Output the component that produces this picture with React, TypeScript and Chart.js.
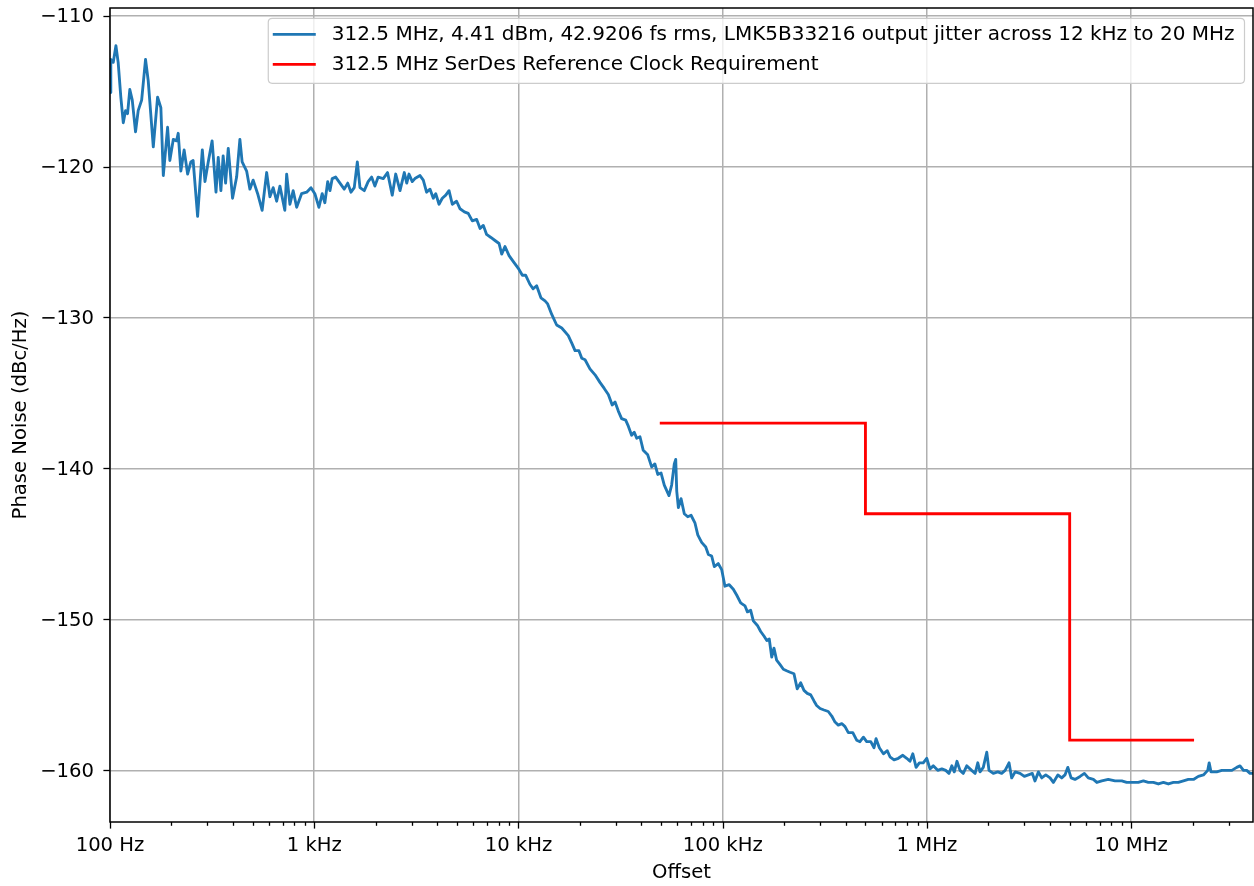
import React, { useEffect, useRef } from 'react';
import { Chart, registerables } from 'chart.js';

Chart.register(...registerables);

const noiseOffsetLog10Hz: number[] = [
  2.000, 2.004, 2.016, 2.029, 2.040, 2.053, 2.065, 2.076, 2.086, 2.097,
  2.109, 2.125, 2.138, 2.155, 2.174, 2.187, 2.212, 2.233, 2.249, 2.261,
  2.282, 2.293, 2.310, 2.326, 2.334, 2.347, 2.363, 2.380, 2.396, 2.407,
  2.429, 2.452, 2.465, 2.481, 2.500, 2.519, 2.530, 2.543, 2.554, 2.566,
  2.579, 2.600, 2.620, 2.636, 2.647, 2.669, 2.685, 2.701, 2.723, 2.745,
  2.767, 2.783, 2.799, 2.816, 2.832, 2.856, 2.865, 2.881, 2.897, 2.914,
  2.938, 2.963, 2.984,
  3.003, 3.023, 3.039, 3.052, 3.066, 3.077, 3.088, 3.105, 3.126, 3.147,
  3.164, 3.180, 3.196, 3.211, 3.224, 3.245, 3.264, 3.281, 3.297, 3.313,
  3.338, 3.359, 3.382, 3.399, 3.420, 3.441, 3.453, 3.464, 3.480, 3.493,
  3.518, 3.534, 3.550, 3.567, 3.583, 3.595, 3.611, 3.627, 3.644, 3.660,
  3.676, 3.697, 3.714, 3.735, 3.754, 3.774, 3.795, 3.812, 3.828, 3.844,
  3.865, 3.885, 3.905, 3.918, 3.934, 3.954, 3.975,
  4.002, 4.019, 4.035, 4.056, 4.072, 4.089, 4.110, 4.130, 4.143, 4.163,
  4.187, 4.212, 4.244, 4.261, 4.277, 4.296, 4.310, 4.326, 4.350, 4.375,
  4.399, 4.420, 4.440, 4.459, 4.473, 4.489, 4.505, 4.525, 4.538, 4.554,
  4.567, 4.579, 4.595, 4.611, 4.633, 4.652, 4.668, 4.682, 4.698, 4.714,
  4.737, 4.750, 4.763, 4.770, 4.775, 4.783, 4.796, 4.812, 4.829, 4.845,
  4.864, 4.878, 4.897, 4.917, 4.930, 4.946, 4.959, 4.978, 4.995,
  5.011, 5.032, 5.052, 5.069, 5.088, 5.109, 5.121, 5.137, 5.150, 5.170,
  5.186, 5.202, 5.216, 5.228, 5.240, 5.251, 5.264, 5.281, 5.297, 5.313,
  5.330, 5.349, 5.365, 5.382, 5.398, 5.414, 5.431, 5.447, 5.460, 5.477,
  5.496, 5.517, 5.534, 5.550, 5.566, 5.583, 5.599, 5.615, 5.637, 5.656,
  5.672, 5.689, 5.705, 5.725, 5.741, 5.751, 5.767, 5.787, 5.806, 5.819,
  5.839, 5.860, 5.882, 5.901, 5.917, 5.931, 5.947, 5.963, 5.982, 5.999,
  6.015, 6.031, 6.053, 6.073, 6.092, 6.108, 6.122, 6.134, 6.147, 6.162,
  6.178, 6.195, 6.219, 6.236, 6.249, 6.260, 6.276, 6.293, 6.304, 6.325,
  6.347, 6.366, 6.383, 6.402, 6.415, 6.432, 6.456, 6.477, 6.497, 6.516,
  6.529, 6.546, 6.562, 6.582, 6.603, 6.619, 6.641, 6.660, 6.676, 6.690,
  6.706, 6.725, 6.750, 6.771, 6.790, 6.815, 6.832, 6.856, 6.888, 6.921,
  6.954, 6.978, 7.003, 7.035, 7.060, 7.084, 7.109, 7.133, 7.158, 7.182,
  7.207, 7.231, 7.256, 7.280, 7.305, 7.329, 7.354, 7.375, 7.382, 7.391,
  7.419, 7.444, 7.468, 7.493, 7.517, 7.533, 7.550, 7.566, 7.582, 7.597,
];

// Measured phase noise (dBc/Hz) at each of the offsets above
const noisePhaseDbcHz: number[] = [
  -115.1, -112.9, -113.1, -112.0, -113.1, -115.4, -117.1, -116.3, -116.5, -114.9,
  -115.6, -117.7, -116.3, -115.6, -112.9, -114.3, -118.7, -115.4, -116.1, -120.6,
  -117.4, -119.6, -118.2, -118.3, -117.8, -120.3, -118.9, -120.5, -119.7, -119.6,
  -123.3, -118.9, -121.0, -119.7, -118.3, -121.7, -119.4, -121.6, -119.3, -121.1,
  -118.8, -122.1, -120.7, -118.2, -119.7, -120.3, -121.5, -120.9, -121.8, -122.9,
  -120.4, -122.0, -121.4, -122.3, -121.3, -122.9, -120.5, -122.5, -121.6, -122.7,
  -121.8, -121.7, -121.4,
  -121.8, -122.7, -121.8, -122.4, -121.0, -121.6, -120.8, -120.7, -121.1, -121.5,
  -121.1, -121.7, -121.4, -119.7, -121.4, -121.6, -121.0, -120.7, -121.3, -120.7,
  -120.8, -120.4, -121.9, -120.5, -121.6, -120.4, -121.1, -120.5, -121.0, -120.8,
  -120.6, -120.9, -121.7, -121.5, -122.1, -121.8, -122.5, -122.1, -121.9, -121.6,
  -122.5, -122.3, -122.8, -123.0, -123.1, -123.6, -123.5, -124.1, -123.9, -124.5,
  -124.7, -124.9, -125.1, -125.8, -125.3, -125.9, -126.3,
  -126.8, -127.2, -127.2, -127.8, -128.1, -127.9, -128.7, -128.9, -129.1, -129.8,
  -130.5, -130.7, -131.2, -131.7, -132.2, -132.2, -132.7, -132.8, -133.4, -133.8,
  -134.3, -134.7, -135.1, -135.8, -135.6, -136.2, -136.7, -136.8, -137.2, -137.8,
  -137.6, -138.0, -137.9, -138.8, -139.1, -139.9, -139.7, -140.4, -140.3, -141.1,
  -141.8, -141.1, -139.7, -139.4, -141.5, -142.6, -142.0, -143.0, -143.2, -143.1,
  -143.6, -144.4, -144.9, -145.2, -145.7, -145.8, -146.5, -146.3, -146.7,
  -147.8, -147.7, -148.0, -148.4, -148.9, -149.1, -149.5, -149.4, -150.1, -150.4,
  -150.8, -151.1, -151.4, -151.3, -152.5, -151.9, -152.7, -153.0, -153.3, -153.4,
  -153.5, -153.6, -154.6, -154.2, -154.7, -154.9, -155.0, -155.4, -155.7, -155.9,
  -156.0, -156.1, -156.4, -156.8, -157.0, -156.9, -157.1, -157.5, -157.5, -158.0,
  -158.1, -157.8, -158.1, -158.1, -158.5, -157.9, -158.5, -158.9, -158.7, -159.1,
  -159.3, -159.2, -159.0, -159.2, -159.4, -158.9, -159.8, -159.5, -159.5, -159.2,
  -159.9, -159.7, -160.0, -159.9, -160.0, -160.2, -159.7, -160.1, -159.4, -160.0,
  -160.2, -159.7, -160.0, -160.2, -159.5, -160.1, -159.8, -158.8, -160.0, -160.2,
  -160.1, -160.2, -160.0, -159.5, -160.5, -160.1, -160.2, -160.4, -160.3, -160.2,
  -160.7, -160.1, -160.5, -160.3, -160.5, -160.8, -160.3, -160.5, -160.3, -159.8,
  -160.5, -160.6, -160.4, -160.2, -160.5, -160.6, -160.8, -160.7, -160.6, -160.7,
  -160.7, -160.8, -160.8, -160.8, -160.7, -160.8, -160.8, -160.9, -160.8, -160.9,
  -160.8, -160.8, -160.7, -160.6, -160.6, -160.4, -160.3, -160.0, -159.5, -160.1,
  -160.1, -160.0, -160.0, -160.0, -159.8, -159.7, -160.0, -160.0, -160.2, -160.2,
];

// Requirement mask (stepped limit line)
const reqOffsetHz: number[] = [50e3, 500e3, 500e3, 5e6, 5e6, 20e6];
const reqPhaseDbcHz: number[] = [-137, -137, -143, -143, -158, -158];

const seriesLabels: string[] = [
  '312.5 MHz, 4.41 dBm, 42.9206 fs rms, LMK5B33216 output jitter across 12 kHz to 20 MHz',
  '312.5 MHz SerDes Reference Clock Requirement',
];
const seriesColors: string[] = ['#1f77b4', '#ff0000'];

const xMajorTicks: number[] = [1e2, 1e3, 1e4, 1e5, 1e6, 1e7];
const xTickLabels: string[] = ['100 Hz', '1 kHz', '10 kHz', '100 kHz', '1 MHz', '10 MHz'];
const yTicks: number[] = [-160, -150, -140, -130, -120, -110];
const yTickLabels: string[] = ['\u2212160', '\u2212150', '\u2212140', '\u2212130', '\u2212120', '\u2212110'];

const X_MIN = 100;
const X_MAX = 3.95e7;
const Y_MIN = -163.42;
const Y_MAX = -109.5;

const FONT = '"DejaVu Sans", "Liberation Sans", sans-serif';
const FS = 19.6;
const LEGEND_FS = 20;

const isDecade = (v: number) => {
  const l = Math.log10(v);
  return Math.abs(l - Math.round(l)) < 1e-9;
};

const mplPlugin = {
  id: 'mplDecor',
  afterDatasetsDraw(chart: any) {
    const { ctx, chartArea: a, scales } = chart;
    ctx.save();
    ctx.strokeStyle = '#000';
    ctx.lineWidth = 1.3;
    const xs = scales.x;
    for (const t of xs.ticks) {
      const px = Math.round(xs.getPixelForValue(t.value)) + 0.5;
      const len = isDecade(t.value) ? 6.6 : 3.8;
      ctx.beginPath();
      ctx.moveTo(px, a.bottom);
      ctx.lineTo(px, a.bottom + len);
      ctx.stroke();
    }
    const ys = scales.y;
    for (const t of ys.ticks) {
      const py = Math.round(ys.getPixelForValue(t.value)) + 0.5;
      ctx.beginPath();
      ctx.moveTo(a.left, py);
      ctx.lineTo(a.left - 6.6, py);
      ctx.stroke();
    }
    ctx.lineWidth = 1.5;
    ctx.strokeRect(a.left, a.top, a.right - a.left, a.bottom - a.top);

    // legend (matplotlib style, upper right)
    ctx.font = `${LEGEND_FS}px ${FONT}`;
    const datasets = chart.data.datasets;
    let tw = 0;
    for (const d of datasets) tw = Math.max(tw, ctx.measureText(d.label).width);
    const padL = 4.5;
    const handle = 43;
    const hpad = 16;
    const padR = 10;
    const right = a.right - 8.5;
    const top = a.top + 10.3;
    const w = padL + handle + hpad + tw + padR;
    const rowH = 30;
    const h = 65;
    const left = right - w;
    ctx.beginPath();
    const r = 4;
    ctx.moveTo(left + r, top);
    ctx.lineTo(right - r, top);
    ctx.quadraticCurveTo(right, top, right, top + r);
    ctx.lineTo(right, top + h - r);
    ctx.quadraticCurveTo(right, top + h, right - r, top + h);
    ctx.lineTo(left + r, top + h);
    ctx.quadraticCurveTo(left, top + h, left, top + h - r);
    ctx.lineTo(left, top + r);
    ctx.quadraticCurveTo(left, top, left + r, top);
    ctx.closePath();
    ctx.fillStyle = 'rgba(255,255,255,0.8)';
    ctx.fill();
    ctx.strokeStyle = '#cccccc';
    ctx.lineWidth = 1.2;
    ctx.stroke();
    datasets.forEach((d: any, i: number) => {
      const cy = top + 16 + i * rowH;
      ctx.strokeStyle = d.borderColor;
      ctx.lineWidth = 2.85;
      ctx.lineCap = 'butt';
      ctx.beginPath();
      ctx.moveTo(left + padL, cy);
      ctx.lineTo(left + padL + handle, cy);
      ctx.stroke();
      ctx.fillStyle = '#000';
      ctx.textBaseline = 'middle';
      ctx.textAlign = 'left';
      ctx.fillText(d.label, left + padL + handle + hpad, cy);
    });
    ctx.restore();
  },
};

export default function App() {
  const ref = useRef<HTMLCanvasElement | null>(null);

  useEffect(() => {
    if (!ref.current) return;
    const noiseData = noiseOffsetLog10Hz.map((lf, i) => ({ x: Math.pow(10, lf), y: noisePhaseDbcHz[i] }));
    const reqData = reqOffsetHz.map((f, i) => ({ x: f, y: reqPhaseDbcHz[i] }));
    const chart = new Chart(ref.current, {
      type: 'line',
      data: {
        datasets: [
          {
            label: seriesLabels[0],
            data: noiseData,
            borderColor: seriesColors[0],
            backgroundColor: seriesColors[0],
            borderWidth: 2.85,
            pointRadius: 0,
            pointHoverRadius: 0,
            tension: 0,
            borderJoinStyle: 'round',
            borderCapStyle: 'square',
            fill: false,
          },
          {
            label: seriesLabels[1],
            data: reqData,
            borderColor: seriesColors[1],
            backgroundColor: seriesColors[1],
            borderWidth: 2.85,
            pointRadius: 0,
            pointHoverRadius: 0,
            tension: 0,
            borderJoinStyle: 'miter',
            borderCapStyle: 'square',
            fill: false,
          },
        ],
      },
      options: {
        animation: false,
        responsive: false,
        devicePixelRatio: 1,
        events: [],
        layout: { padding: { left: 0, right: 1, top: 8, bottom: 0 } },
        plugins: {
          legend: { display: false },
          tooltip: { enabled: false },
        },
        scales: {
          x: {
            type: 'logarithmic',
            min: X_MIN,
            max: X_MAX,
            border: { display: false },
            grid: {
              drawTicks: false,
              lineWidth: 1.5,
              color: (c: any) => (c.tick && isDecade(c.tick.value) ? '#b0b0b0' : 'rgba(0,0,0,0)'),
            },
            afterBuildTicks: (scale: any) => {
              const ticks: any[] = [];
              for (let e = 2; e <= 7; e++) {
                for (let m = 1; m <= 9; m++) {
                  const v = m * Math.pow(10, e);
                  if (v >= scale.min && v <= scale.max) ticks.push({ value: v, major: m === 1 });
                }
              }
              scale.ticks = ticks;
            },
            afterFit: (scale: any) => {
              scale.height = 64;
              scale.paddingLeft = 0;
              scale.paddingRight = 0;
              scale.paddingTop = 0;
              scale.paddingBottom = 0;
            },
            ticks: {
              autoSkip: false,
              maxRotation: 0,
              minRotation: 0,
              padding: 12,
              color: '#000',
              font: { family: FONT, size: FS },
              callback: (v: any) => {
                const i = xMajorTicks.findIndex((t) => Math.abs(t - Number(v)) < 1e-6 * t);
                return i >= 0 ? xTickLabels[i] : '';
              },
            },
            title: {
              display: true,
              text: 'Offset',
              color: '#000',
              font: { family: FONT, size: FS },
              padding: { top: 0, bottom: 1 },
            },
          },
          y: {
            type: 'linear',
            min: Y_MIN,
            max: Y_MAX,
            border: { display: false },
            grid: { drawTicks: false, lineWidth: 1.5, color: '#b0b0b0' },
            afterBuildTicks: (scale: any) => {
              scale.ticks = yTicks.map((v) => ({ value: v }));
            },
            afterFit: (scale: any) => {
              scale.width = 110;
              scale.paddingLeft = 0;
              scale.paddingRight = 0;
              scale.paddingTop = 0;
              scale.paddingBottom = 0;
            },
            ticks: {
              padding: 16,
              labelOffset: 1.5,
              color: '#000',
              font: { family: FONT, size: FS },
              callback: (v: any) => {
                const i = yTicks.indexOf(Number(v));
                return i >= 0 ? yTickLabels[i] : '';
              },
            },
            title: {
              display: true,
              text: 'Phase Noise (dBc/Hz)',
              color: '#000',
              font: { family: FONT, size: FS },
              padding: { top: 9, bottom: 0 },
            },
          },
        },
      },
      plugins: [mplPlugin],
    } as any);
    return () => chart.destroy();
  }, []);

  return (
    <div style={{ position: 'fixed', left: 0, top: 0, width: 1254, height: 886, background: '#fff' }}>
      <canvas ref={ref} width={1254} height={886} style={{ display: 'block' }} />
    </div>
  );
}
